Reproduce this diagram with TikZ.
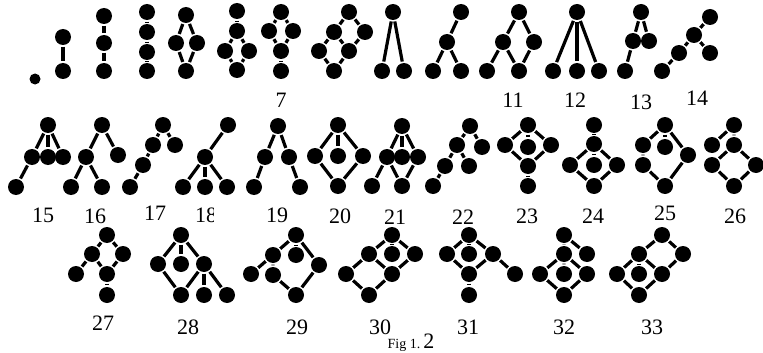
\documentclass[tikz,border=0pt]{standalone}
\usepackage{fontspec}
\setmainfont{Liberation Serif}
\begin{document}
\begin{tikzpicture}[x=1pt,y=-1pt,line width=3.2pt,
  v/.style={circle,fill=black,inner sep=0pt,minimum size=16pt},
  sv/.style={circle,fill=black,inner sep=0pt,minimum size=11pt},
  lab/.style={inner sep=0pt,font=\fontsize{22}{22}\selectfont}]
\clip (0,0) rectangle (763,353);
\fill[white] (0,0) rectangle (763,353);
% ---------- row 1
\node[sv] (g1a) at (35,79) {};
\node[v] (g2a) at (63,37) {}; \node[v] (g2b) at (63,71) {};
\draw (g2a)--(g2b);
\node[v] (g3a) at (104,16) {}; \node[v] (g3b) at (104,43) {}; \node[v] (g3c) at (104,71) {};
\draw (g3a)--(g3b)--(g3c);
\node[v] (g4a) at (147,12) {}; \node[v] (g4b) at (147,32) {}; \node[v] (g4c) at (147,52) {}; \node[v] (g4d) at (147,71) {};
\draw (g4a)--(g4b)--(g4c)--(g4d);
\node[v] (g5a) at (186,15) {}; \node[v] (g5b) at (176,43) {}; \node[v] (g5c) at (197,43) {}; \node[v] (g5d) at (186,71) {};
\draw (g5a)--(g5b)--(g5d)--(g5c)--(g5a);
\node[v] (g6a) at (237,11) {}; \node[v] (g6b) at (237,31) {}; \node[v] (g6c) at (225,51) {}; \node[v] (g6d) at (249,51) {}; \node[v] (g6e) at (237,70) {};
\draw (g6a)--(g6b); \draw (g6b)--(g6c)--(g6e)--(g6d)--(g6b);
\node[v] (g7a) at (281,12) {}; \node[v] (g7b) at (269,31) {}; \node[v] (g7c) at (293,31) {}; \node[v] (g7d) at (281,51) {}; \node[v] (g7e) at (281,71) {};
\draw (g7a)--(g7b)--(g7d)--(g7c)--(g7a); \draw (g7d)--(g7e);
\node[v] (g8a) at (349,12) {}; \node[v] (g8b) at (334,32) {}; \node[v] (g8c) at (365,32) {}; \node[v] (g8d) at (319,51) {}; \node[v] (g8e) at (349,51) {}; \node[v] (g8f) at (334,71) {};
\draw (g8a)--(g8b)--(g8d)--(g8f)--(g8e)--(g8c)--(g8a); \draw (g8b)--(g8e);
\node[v] (g9a) at (393,12) {}; \node[v] (g9b) at (382,71) {}; \node[v] (g9c) at (404,71) {};
\draw (g9b)--(g9a)--(g9c);
\node[v] (g10a) at (461,12) {}; \node[v] (g10b) at (447,42) {}; \node[v] (g10c) at (433,71) {}; \node[v] (g10d) at (461,71) {};
\draw (g10a)--(g10b)--(g10c); \draw (g10b)--(g10d);
\node[v] (g11a) at (519,12) {}; \node[v] (g11b) at (503,42) {}; \node[v] (g11c) at (534,42) {}; \node[v] (g11d) at (519,71) {}; \node[v] (g11e) at (487,71) {};
\draw (g11a)--(g11b)--(g11d)--(g11c)--(g11a); \draw (g11b)--(g11e);
\node[v] (g12a) at (577,12) {}; \node[v] (g12b) at (553,71) {}; \node[v] (g12c) at (577,71) {}; \node[v] (g12d) at (599,71) {};
\draw (g12a)--(g12b); \draw (g12a)--(g12c); \draw (g12a)--(g12d);
\node[v] (g13a) at (641,12) {}; \node[v] (g13b) at (633,41) {}; \node[v] (g13c) at (649,41) {}; \node[v] (g13d) at (625,71) {};
\draw (g13c)--(g13a)--(g13b)--(g13d);
\node[v] (g14a) at (710,17) {}; \node[v] (g14b) at (694,35) {}; \node[v] (g14c) at (710,53) {}; \node[v] (g14d) at (679,53) {}; \node[v] (g14e) at (662,71) {};
\draw (g14a)--(g14b)--(g14c); \draw (g14b)--(g14d)--(g14e);
\node[lab] (l7) at (281,100) {7};
\node[lab] (l11) at (513,100) {11};
\node[lab] (l12) at (575,100) {12};
\node[lab] (l13) at (641,102) {13};
\node[lab] (l14) at (697,98) {14};
% ---------- row 2
\node[v] (g15a) at (48,125) {}; \node[v] (g15b) at (32,157) {}; \node[v] (g15c) at (48,157) {}; \node[v] (g15d) at (63,157) {}; \node[v] (g15e) at (16,187) {};
\draw (g15a)--(g15b)--(g15e); \draw (g15a)--(g15c); \draw (g15a)--(g15d);
\node[v] (g16a) at (102,125) {}; \node[v] (g16b) at (86,157) {}; \node[v] (g16c) at (118,155) {}; \node[v] (g16d) at (71,187) {}; \node[v] (g16e) at (102,187) {};
\draw (g16c)--(g16a)--(g16b)--(g16d); \draw (g16b)--(g16e);
\node[v] (g17a) at (163,125) {}; \node[v] (g17b) at (153,145) {}; \node[v] (g17c) at (175,145) {}; \node[v] (g17d) at (143,165) {}; \node[v] (g17e) at (130,187) {};
\draw (g17c)--(g17a)--(g17b)--(g17d)--(g17e);
\node[v] (g18a) at (228,125) {}; \node[v] (g18b) at (205,157) {}; \node[v] (g18c) at (183,187) {}; \node[v] (g18d) at (205,187) {}; \node[v] (g18e) at (227,187) {};
\draw (g18a)--(g18b); \draw (g18b)--(g18c); \draw (g18b)--(g18d); \draw (g18b)--(g18e);
\node[v] (g19a) at (278,126) {}; \node[v] (g19b) at (265,157) {}; \node[v] (g19c) at (289,157) {}; \node[v] (g19d) at (254,187) {}; \node[v] (g19e) at (300,187) {};
\draw (g19d)--(g19b)--(g19a)--(g19c)--(g19e);
\node[v] (g20a) at (338,125) {}; \node[v] (g20b) at (315,156) {}; \node[v] (g20c) at (338,156) {}; \node[v] (g20d) at (363,156) {}; \node[v] (g20e) at (338,186) {};
\draw (g20a)--(g20b)--(g20e)--(g20d)--(g20a); \draw (g20a)--(g20c);
\node[v] (g21a) at (402,126) {}; \node[v] (g21b) at (387,157) {}; \node[v] (g21c) at (402,157) {}; \node[v] (g21d) at (418,157) {}; \node[v] (g21e) at (402,186) {}; \node[v] (g21f) at (372,186) {};
\draw (g21a)--(g21b)--(g21e)--(g21d)--(g21a); \draw (g21a)--(g21c); \draw (g21b)--(g21f);
\node[v] (g22a) at (470,126) {}; \node[v] (g22b) at (457,145) {}; \node[v] (g22c) at (482,147) {}; \node[v] (g22d) at (469,166) {}; \node[v] (g22e) at (445,166) {}; \node[v] (g22f) at (433,186) {};
\draw (g22c)--(g22a)--(g22b)--(g22d); \draw (g22b)--(g22e)--(g22f);
\node[v] (g23a) at (528,125) {}; \node[v] (g23b) at (505,145) {}; \node[v] (g23c) at (528,147) {}; \node[v] (g23d) at (551,145) {}; \node[v] (g23e) at (528,166) {}; \node[v] (g23f) at (528,186) {};
\draw (g23a)--(g23b)--(g23e)--(g23d)--(g23a); \draw (g23a)--(g23c); \draw (g23e)--(g23f);
\node[v] (g24a) at (594,125) {}; \node[v] (g24b) at (594,144) {}; \node[v] (g24c) at (570,165) {}; \node[v] (g24d) at (594,165) {}; \node[v] (g24e) at (617,165) {}; \node[v] (g24f) at (594,186) {};
\draw (g24a)--(g24b)--(g24d); \draw (g24b)--(g24c)--(g24f)--(g24e)--(g24b);
\node[v] (g25a) at (665,125) {}; \node[v] (g25b) at (643,145) {}; \node[v] (g25c) at (665,147) {}; \node[v] (g25d) at (688,155) {}; \node[v] (g25e) at (643,165) {}; \node[v] (g25f) at (665,186) {};
\draw (g25a)--(g25b)--(g25e)--(g25f)--(g25d)--(g25a); \draw (g25a)--(g25c);
\node[v] (g26a) at (734,125) {}; \node[v] (g26b) at (712,145) {}; \node[v] (g26c) at (734,145) {}; \node[v] (g26d) at (712,165) {}; \node[v] (g26e) at (756,165) {}; \node[v] (g26f) at (734,186) {};
\draw (g26b)--(g26a)--(g26c); \draw (g26c)--(g26d)--(g26f)--(g26e)--(g26c);
\node[lab] (l15) at (43,215) {15};
\node[lab] (l16) at (95,216) {16};
\node[lab] (l17) at (155,213) {17};
\begin{scope}
\clip (180,195) rectangle (213,235);
\node[lab] (l18) at (206,215) {18};
\end{scope}
\node[lab] (l19) at (277,215) {19};
\node[lab] (l20) at (340,216) {20};
\node[lab] (l21) at (395,217) {21};
\node[lab] (l22) at (463,217) {22};
\node[lab] (l23) at (527,216) {23};
\node[lab] (l24) at (593,216) {24};
\node[lab] (l25) at (665,213) {25};
\node[lab] (l26) at (735,216) {26};
% ---------- row 3
\node[v] (g27a) at (107,235) {}; \node[v] (g27b) at (92,254) {}; \node[v] (g27c) at (123,254) {}; \node[v] (g27d) at (76,274) {}; \node[v] (g27e) at (107,274) {}; \node[v] (g27f) at (107,295) {};
\draw (g27a)--(g27b)--(g27e)--(g27c)--(g27a); \draw (g27b)--(g27d); \draw (g27e)--(g27f);
\node[v] (g28a) at (181,235) {}; \node[v] (g28b) at (158,264) {}; \node[v] (g28c) at (181,264) {}; \node[v] (g28d) at (204,264) {}; \node[v] (g28e) at (181,295) {}; \node[v] (g28f) at (204,295) {}; \node[v] (g28g) at (227,295) {};
\draw (g28a)--(g28b)--(g28e)--(g28d)--(g28a); \draw (g28a)--(g28c); \draw (g28d)--(g28f); \draw (g28d)--(g28g);
\node[v] (g29a) at (296,235) {}; \node[v] (g29b) at (273,255) {}; \node[v] (g29c) at (296,255) {}; \node[v] (g29d) at (319,265) {}; \node[v] (g29e) at (251,274) {}; \node[v] (g29f) at (273,275) {}; \node[v] (g29g) at (296,295) {};
\draw (g29a)--(g29b)--(g29f)--(g29g)--(g29d)--(g29a); \draw (g29a)--(g29c); \draw (g29b)--(g29e);
\node[v] (g30a) at (392,235) {}; \node[v] (g30b) at (369,254) {}; \node[v] (g30c) at (392,254) {}; \node[v] (g30d) at (415,254) {}; \node[v] (g30e) at (346,274) {}; \node[v] (g30f) at (392,274) {}; \node[v] (g30g) at (369,295) {};
\draw (g30a)--(g30b)--(g30f)--(g30d)--(g30a); \draw (g30a)--(g30c); \draw (g30b)--(g30e)--(g30g)--(g30f);
\node[v] (g31a) at (469,235) {}; \node[v] (g31b) at (447,254) {}; \node[v] (g31c) at (469,254) {}; \node[v] (g31d) at (493,254) {}; \node[v] (g31e) at (515,274) {}; \node[v] (g31f) at (469,274) {}; \node[v] (g31g) at (469,295) {};
\draw (g31a)--(g31b)--(g31f)--(g31d)--(g31a); \draw (g31a)--(g31c); \draw (g31d)--(g31e); \draw (g31f)--(g31g);
\node[v] (g32a) at (564,235) {}; \node[v] (g32b) at (587,254) {}; \node[v] (g32c) at (564,254) {}; \node[v] (g32d) at (540,274) {}; \node[v] (g32e) at (564,274) {}; \node[v] (g32f) at (587,274) {}; \node[v] (g32g) at (564,295) {};
\draw (g32b)--(g32a)--(g32c)--(g32e); \draw (g32c)--(g32d)--(g32g)--(g32f)--(g32c);
\node[v] (g33a) at (662,235) {}; \node[v] (g33b) at (639,254) {}; \node[v] (g33c) at (683,254) {}; \node[v] (g33d) at (617,274) {}; \node[v] (g33e) at (639,274) {}; \node[v] (g33f) at (662,274) {}; \node[v] (g33g) at (639,295) {};
\draw (g33a)--(g33b)--(g33d)--(g33g)--(g33f)--(g33c)--(g33a); \draw (g33b)--(g33e); \draw (g33b)--(g33f);
\node[lab] (l27) at (103,323) {27};
\node[lab] (l28) at (188,327) {28};
\node[lab] (l29) at (297,327) {29};
\node[lab] (l30) at (380,327) {30};
\node[lab] (l31) at (468,327) {31};
\node[lab] (l32) at (564,327) {32};
\node[lab] (l33) at (652,327) {33};
\node[inner sep=0pt,anchor=base west,font=\fontsize{14}{14}\selectfont] (fig) at (386,348) {Fig 1.};
\node[inner sep=0pt,anchor=base west,font=\fontsize{22}{22}\selectfont] (fig2) at (fig.base east) {2};
\end{tikzpicture}
\end{document}
